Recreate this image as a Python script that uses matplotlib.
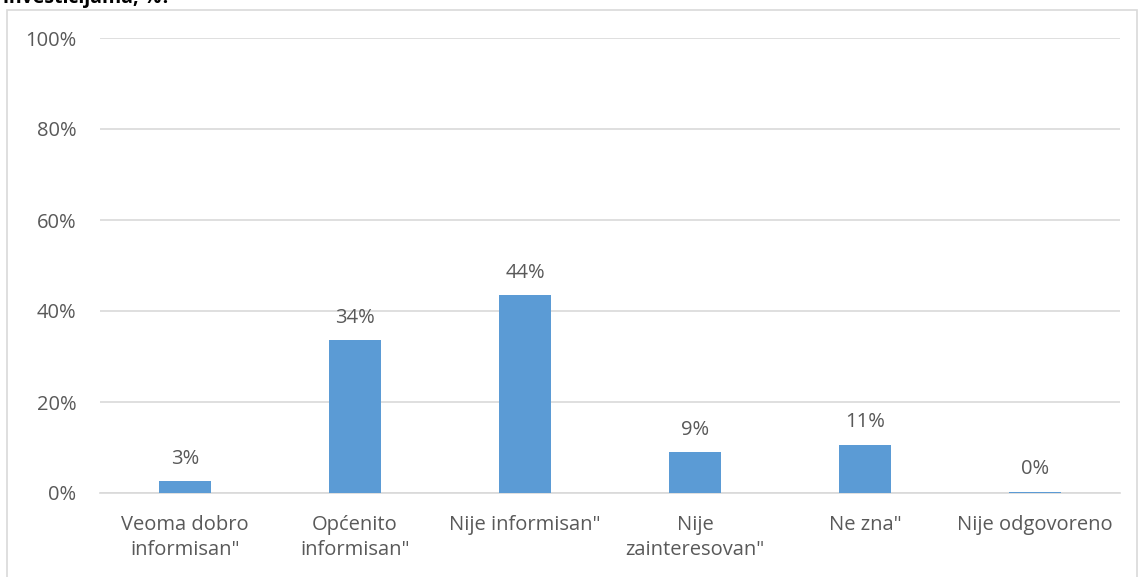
import matplotlib.pyplot as plt
from matplotlib.patches import Rectangle
from matplotlib.ticker import PercentFormatter

# data
categories = ['Veoma dobro\ninformisan"', 'Općenito\ninformisan"', 'Nije informisan"',
              'Nije\nzainteresovan"', 'Ne zna"', 'Nije odgovoreno']
values = [2.6, 33.6, 43.5, 9.0, 10.6, 0.3]
yticks = [0, 20, 40, 60, 80, 100]

bar_color = '#5B9BD5'
text_color = '#595959'
grid_color = '#D9D9D9'

plt.rcParams['font.family'] = ['Open Sans', 'DejaVu Sans']

W, H = 1139, 577
fig = plt.figure(figsize=(W / 100, H / 100), dpi=100)

# chart border (runs past the bottom edge, as in the reference)
fig.patches.append(Rectangle((7 / W, -0.05), 1130 / W, 1.05 - 10 / H, transform=fig.transFigure,
                             fill=False, edgecolor=grid_color, linewidth=1.2, clip_on=False))

# title line, clipped at the top as in the reference
fig.text(3 / W, 1 + 2 / H, 'investicijama, %?', ha='left', va='center',
         fontsize=14, fontweight='bold', color='black')

ax = fig.add_axes([100 / W, 1 - 493 / H, 1020 / W, (493 - 38) / H])
x = range(len(categories))
ax.bar(x, values, width=0.31, color=bar_color, zorder=3)

for xi, v in zip(x, values):
    ax.annotate(f'{v:.0f}%', (xi, v), xytext=(0, 9), textcoords='offset points',
                ha='center', va='bottom', fontsize=14.5, color=text_color)

ax.set_xlim(-0.5, len(categories) - 0.5)
ax.set_ylim(0, 100)
ax.set_yticks(yticks)
ax.yaxis.set_major_formatter(PercentFormatter(decimals=0))
ax.set_xticks(list(x))
ax.set_xticklabels(categories, fontsize=14.5, color=text_color, linespacing=1.3)
ax.tick_params(axis='y', length=0, pad=17, labelsize=14.5, labelcolor=text_color)
ax.tick_params(axis='x', length=0, pad=16)

ax.grid(axis='y', color=grid_color, linewidth=1.2, zorder=0)
for side in ['top', 'right', 'left']:
    ax.spines[side].set_visible(False)
ax.spines['bottom'].set_color(grid_color)
ax.spines['bottom'].set_linewidth(1.2)

fig.savefig('out.png', dpi=100)
